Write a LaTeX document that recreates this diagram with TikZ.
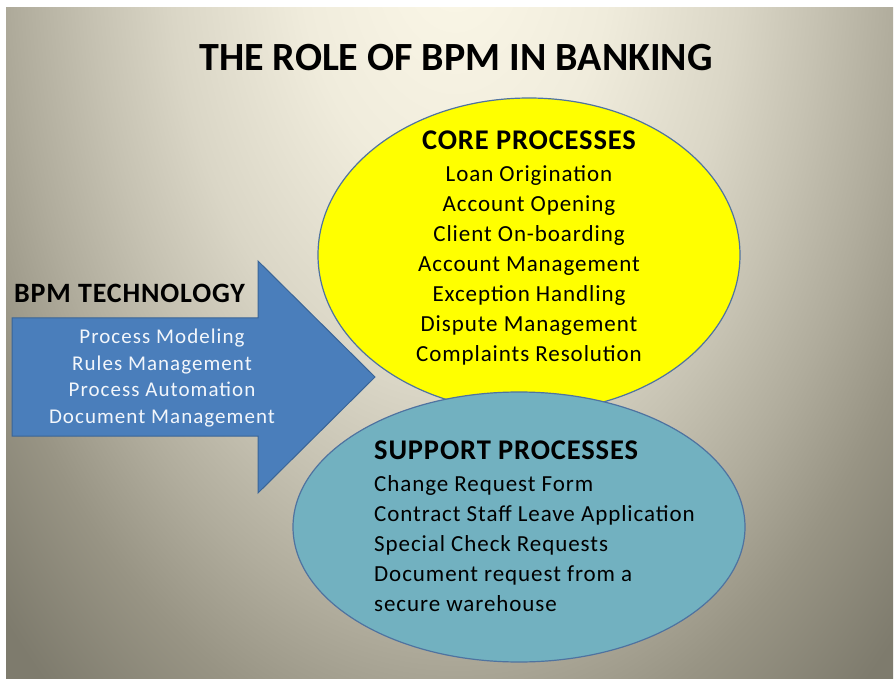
\documentclass[tikz,border=0pt]{standalone}
\usepackage{fontspec}
\setmainfont{Carlito}
\usepackage{tikz}
\usetikzlibrary{shapes.geometric}
\definecolor{bgcream}{HTML}{FCF8E8}
\definecolor{bgpale}{HTML}{F0ECDC}
\definecolor{bglight}{HTML}{DAD6C6}
\definecolor{bgmid}{HTML}{C6C2B2}
\definecolor{bggrey}{HTML}{B0AC9C}
\definecolor{bgdark}{HTML}{989484}
\definecolor{bgdeep}{HTML}{7E7B6D}
\definecolor{coreyellow}{HTML}{FFFF00}
\definecolor{supportteal}{HTML}{72B1C0}
\definecolor{techblue}{HTML}{4A7EBB}
\definecolor{techedge}{HTML}{3A6597}
\definecolor{ellipseedge}{HTML}{4F73A0}
\definecolor{techtext}{HTML}{F2F6FB}
\pgfdeclareradialshading{bgglow}{\pgfpoint{0bp}{0bp}}{color(0bp)=(bgcream); color(5.77bp)=(bgpale); color(10.58bp)=(bglight); color(13.46bp)=(bgmid); color(16.35bp)=(bggrey); color(19.23bp)=(bgdark); color(23.08bp)=(bgdeep); color(50bp)=(bgdeep)}
\tikzstyle{heading}=[inner sep=0pt,font=\bfseries\fontsize{28.5}{30}\selectfont\addfontfeature{LetterSpace=3}]
\tikzstyle{itemlist}=[inner sep=0pt,align=center,font=\fontsize{23}{30}\selectfont\addfontfeature{LetterSpace=4}]
\tikzstyle{procellipse}=[ellipse,draw=ellipseedge,line width=1.2pt,inner sep=0pt]
\tikzstyle{techarrow}=[fill=techblue,draw=techedge,line width=1pt,line join=miter]

\begin{document}
\begin{tikzpicture}[x=1pt,y=-1pt]
  \useasboundingbox (0,0) rectangle (895,679);
  \fill[white] (0,0) rectangle (895,679);
  \begin{scope}
    \clip (6,8) rectangle (893,679);
    \shade[shading=bgglow] (455,-60) ellipse [x radius=676pt,y radius=1066pt];
  \end{scope}
  % technology arrow
  \draw[techarrow] (12,318) -- (258,318) -- (258,261) -- (375,377)
    -- (258,493) -- (258,436) -- (12,436) -- cycle;
  % process ellipses
  \node[procellipse,fill=coreyellow,minimum width=422pt,minimum height=314pt] (core) at (529,255) {};
  \node[procellipse,fill=supportteal,minimum width=452pt,minimum height=270pt] (support) at (519,527) {};
  % texts
  \node[heading,font=\bfseries\fontsize{40}{44}\selectfont] (title) at (456,58) {THE ROLE OF BPM IN BANKING};
  \node[heading,anchor=west,font=\bfseries\fontsize{28}{30}\selectfont\addfontfeature{LetterSpace=3}] (techhead) at (14,293) {BPM TECHNOLOGY};
  \node[itemlist,text=techtext,font=\fontsize{21}{26.5}\selectfont\addfontfeature{LetterSpace=5}] (techlist) at (162,378)
    {Process Modeling\\Rules Management\\Process Automation\\Document Management};
  \node[heading] (corehead) at (529,140) {CORE PROCESSES};
  \node[itemlist] (corelist) at (529,265)
    {Loan Origination\\Account Opening\\Client On-boarding\\Account Management\\Exception Handling\\Dispute Management\\Complaints Resolution};
  \node[heading,anchor=west] (supporthead) at (374,450) {SUPPORT PROCESSES};
  \node[itemlist,align=left,anchor=west] (supportlist) at (374,544)
    {Change Request Form\\Contract Staff Leave Application\\Special Check Requests\\Document request from a\\secure warehouse};
\end{tikzpicture}
\end{document}
